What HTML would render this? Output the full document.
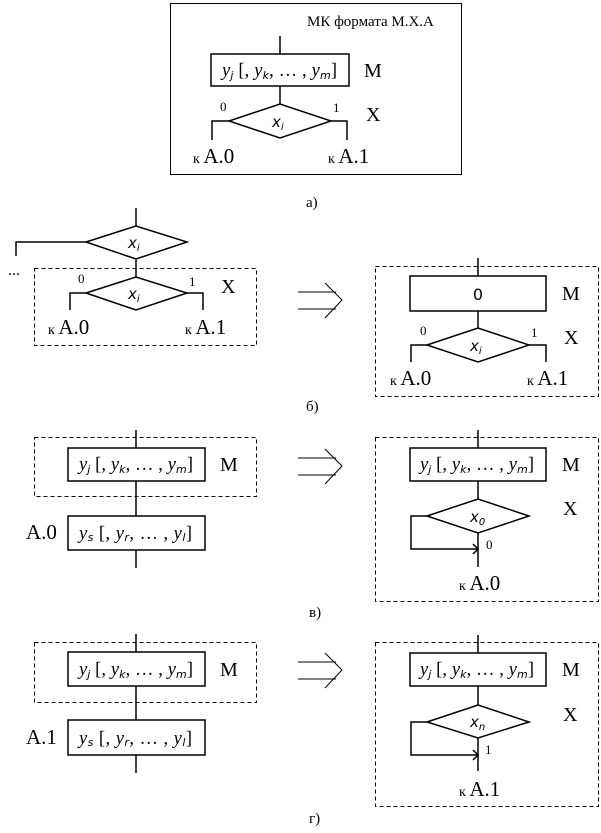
<!DOCTYPE html>
<html><head><meta charset="utf-8"><style>
html,body{margin:0;padding:0;background:#fff}
svg{display:block}
text{font-family:"Liberation Serif","DejaVu Serif",serif;fill:#000}
.s{font-family:"DejaVu Sans","Liberation Sans",sans-serif}
.f{font-size:18.5px}
.i{font-style:italic}
</style></head><body>
<svg width="601" height="833" viewBox="0 0 601 833" xmlns="http://www.w3.org/2000/svg">
<g fill="none" stroke="#000" stroke-width="1.5">
<rect x="170.5" y="3.5" width="291" height="171" stroke-width="1"/>
<line x1="280" y1="36" x2="280" y2="54"/>
<rect x="211" y="54" width="138" height="32"/>
<line x1="280" y1="86" x2="280" y2="104"/>
<polygon points="229,121 280,104 331,121 280,138"/>
<polyline points="229,121 212,121 212,140"/>
<polyline points="331,121 347,121 347,140"/>
<line x1="136" y1="208" x2="136" y2="226"/>
<polygon points="86,242 136,226 187,242 136,259"/>
<polyline points="86,242 16,242 16,256"/>
<rect x="34.5" y="268.5" width="222" height="77" stroke-width="1" stroke-dasharray="4,3"/>
<line x1="136" y1="259" x2="136" y2="277"/>
<polygon points="86,293 136,277 187,293 136,310"/>
<polyline points="86,293 70,293 70,310"/>
<polyline points="187,293 203,293 203,310"/>
<g stroke-width="1">
<line x1="298" y1="292" x2="336" y2="292"/><line x1="298" y1="309" x2="336" y2="309"/><polyline points="325,283 342,300 325,318"/>
<line x1="298" y1="458" x2="336" y2="458"/><line x1="298" y1="475" x2="336" y2="475"/><polyline points="325,449 342,466 325,484"/>
<line x1="298" y1="662" x2="336" y2="662"/><line x1="298" y1="679" x2="336" y2="679"/><polyline points="325,653 342,670 325,688"/>
</g>
<rect x="375.5" y="266.5" width="223" height="130" stroke-width="1" stroke-dasharray="4,3"/>
<line x1="478" y1="258" x2="478" y2="276"/>
<rect x="410" y="276" width="136" height="35"/>
<line x1="478" y1="311" x2="478" y2="328"/>
<polygon points="427,345 478,328 529,345 478,362"/>
<polyline points="427,345 411,345 411,362"/>
<polyline points="529,345 546,345 546,362"/>
<rect x="34.5" y="437.5" width="222" height="59" stroke-width="1" stroke-dasharray="4,3"/>
<line x1="136" y1="430" x2="136" y2="448"/>
<rect x="68" y="448" width="137" height="33"/>
<line x1="136" y1="481" x2="136" y2="516"/>
<rect x="68" y="516" width="137" height="34"/>
<line x1="136" y1="550" x2="136" y2="568"/>
<rect x="375.5" y="437.5" width="223" height="164" stroke-width="1" stroke-dasharray="4,3"/>
<line x1="478" y1="430" x2="478" y2="448"/>
<rect x="410" y="448" width="136" height="33"/>
<line x1="478" y1="481" x2="478" y2="499"/>
<polygon points="427,516 478,499 529,516 478,533"/>
<polyline points="427,516 411,516 411,549 478,549"/>
<polyline points="473,544 478,549 473,554"/>
<line x1="478" y1="533" x2="478" y2="567"/>
<rect x="34.5" y="642.5" width="222" height="60" stroke-width="1" stroke-dasharray="4,3"/>
<line x1="136" y1="634" x2="136" y2="652"/>
<rect x="68" y="652" width="137" height="34"/>
<line x1="136" y1="686" x2="136" y2="720"/>
<rect x="68" y="720" width="137" height="35"/>
<line x1="136" y1="755" x2="136" y2="773"/>
<rect x="375.5" y="642.5" width="223" height="164" stroke-width="1" stroke-dasharray="4,3"/>
<line x1="478" y1="635" x2="478" y2="653"/>
<rect x="410" y="653" width="136" height="33"/>
<line x1="478" y1="686" x2="478" y2="705"/>
<polygon points="427,722 478,705 529,722 478,738"/>
<polyline points="427,722 411,722 411,755 478,755"/>
<polyline points="473,750 478,755 473,760"/>
<line x1="478" y1="738" x2="478" y2="771"/>
</g>

<text x="307" y="26" font-size="15">МК формата М.Х.А</text>
<text x="222" y="76" class="f" textLength="115" lengthAdjust="spacing"><tspan class="i">y</tspan><tspan class="s i" font-size="11" dy="3">j</tspan><tspan dy="-3"> [, </tspan><tspan class="i">y</tspan><tspan class="s i" font-size="11" dy="3">k</tspan><tspan dy="-3">, … , </tspan><tspan class="i">y</tspan><tspan class="s i" font-size="11" dy="3">m</tspan><tspan dy="-3">]</tspan></text>
<text x="364" y="77" font-size="20">M</text>
<text x="220" y="111" font-size="13">0</text>
<text x="333" y="112" font-size="13">1</text>
<text x="366" y="121" font-size="20">X</text>
<text x="272" y="127" class="s i" font-size="15">x<tspan font-size="10" dy="3">i</tspan></text>
<text x="193" y="163"><tspan font-size="14">к </tspan><tspan font-size="21">A.0</tspan></text>
<text x="328" y="163"><tspan font-size="14">к </tspan><tspan font-size="21">A.1</tspan></text>
<text x="306" y="207" font-size="15">а)</text>

<text x="128" y="248" class="s i" font-size="15">x<tspan font-size="10" dy="3">i</tspan></text>
<text x="8" y="275" font-size="16">...</text>
<text x="78" y="283" font-size="13">0</text>
<text x="189" y="286" font-size="13">1</text>
<text x="128" y="299" class="s i" font-size="15">x<tspan font-size="10" dy="3">i</tspan></text>
<text x="221" y="293" font-size="20">X</text>
<text x="48" y="334"><tspan font-size="14">к </tspan><tspan font-size="21">A.0</tspan></text>
<text x="185" y="334"><tspan font-size="14">к </tspan><tspan font-size="21">A.1</tspan></text>

<text x="478" y="300" class="s" font-size="16" text-anchor="middle">0</text>
<text x="562" y="300" font-size="20">M</text>
<text x="420" y="335" font-size="13">0</text>
<text x="531" y="337" font-size="13">1</text>
<text x="564" y="344" font-size="20">X</text>
<text x="470" y="351" class="s i" font-size="15">x<tspan font-size="10" dy="3">i</tspan></text>
<text x="390" y="385"><tspan font-size="14">к </tspan><tspan font-size="21">A.0</tspan></text>
<text x="527" y="385"><tspan font-size="14">к </tspan><tspan font-size="21">A.1</tspan></text>
<text x="306" y="411" font-size="15">б)</text>

<text x="79" y="470" class="f" textLength="114" lengthAdjust="spacing"><tspan class="i">y</tspan><tspan class="s i" font-size="11" dy="3">j</tspan><tspan dy="-3"> [, </tspan><tspan class="i">y</tspan><tspan class="s i" font-size="11" dy="3">k</tspan><tspan dy="-3">, … , </tspan><tspan class="i">y</tspan><tspan class="s i" font-size="11" dy="3">m</tspan><tspan dy="-3">]</tspan></text>
<text x="220" y="471" font-size="20">M</text>
<text x="26" y="539" font-size="21">A.0</text>
<text x="79" y="539" class="f" textLength="113" lengthAdjust="spacing"><tspan class="i">y</tspan><tspan class="s i" font-size="11" dy="2">s</tspan><tspan dy="-2"> [, </tspan><tspan class="i">y</tspan><tspan class="s i" font-size="11" dy="2">r</tspan><tspan dy="-2">, … , </tspan><tspan class="i">y</tspan><tspan class="s i" font-size="11" dy="2">l</tspan><tspan dy="-2">]</tspan></text>
<text x="420" y="470" class="f" textLength="114" lengthAdjust="spacing"><tspan class="i">y</tspan><tspan class="s i" font-size="11" dy="3">j</tspan><tspan dy="-3"> [, </tspan><tspan class="i">y</tspan><tspan class="s i" font-size="11" dy="3">k</tspan><tspan dy="-3">, … , </tspan><tspan class="i">y</tspan><tspan class="s i" font-size="11" dy="3">m</tspan><tspan dy="-3">]</tspan></text>
<text x="562" y="471" font-size="20">M</text>
<text x="563" y="515" font-size="20">X</text>
<text x="470" y="522" class="s i" font-size="15">x<tspan font-size="10" dy="3">0</tspan></text>
<text x="486" y="549" font-size="13">0</text>
<text x="459" y="590"><tspan font-size="14">к </tspan><tspan font-size="21">A.0</tspan></text>
<text x="309" y="617" font-size="15">в)</text>

<text x="79" y="675" class="f" textLength="114" lengthAdjust="spacing"><tspan class="i">y</tspan><tspan class="s i" font-size="11" dy="3">j</tspan><tspan dy="-3"> [, </tspan><tspan class="i">y</tspan><tspan class="s i" font-size="11" dy="3">k</tspan><tspan dy="-3">, … , </tspan><tspan class="i">y</tspan><tspan class="s i" font-size="11" dy="3">m</tspan><tspan dy="-3">]</tspan></text>
<text x="220" y="676" font-size="20">M</text>
<text x="26" y="744" font-size="21">A.1</text>
<text x="79" y="744" class="f" textLength="113" lengthAdjust="spacing"><tspan class="i">y</tspan><tspan class="s i" font-size="11" dy="2">s</tspan><tspan dy="-2"> [, </tspan><tspan class="i">y</tspan><tspan class="s i" font-size="11" dy="2">r</tspan><tspan dy="-2">, … , </tspan><tspan class="i">y</tspan><tspan class="s i" font-size="11" dy="2">l</tspan><tspan dy="-2">]</tspan></text>
<text x="420" y="675" class="f" textLength="114" lengthAdjust="spacing"><tspan class="i">y</tspan><tspan class="s i" font-size="11" dy="3">j</tspan><tspan dy="-3"> [, </tspan><tspan class="i">y</tspan><tspan class="s i" font-size="11" dy="3">k</tspan><tspan dy="-3">, … , </tspan><tspan class="i">y</tspan><tspan class="s i" font-size="11" dy="3">m</tspan><tspan dy="-3">]</tspan></text>
<text x="562" y="676" font-size="20">M</text>
<text x="563" y="721" font-size="20">X</text>
<text x="470" y="727" class="s i" font-size="15">x<tspan font-size="10" dy="3">n</tspan></text>
<text x="485" y="754" font-size="13">1</text>
<text x="459" y="796"><tspan font-size="14">к </tspan><tspan font-size="21">A.1</tspan></text>
<text x="309" y="823" font-size="15">г)</text>
</svg>
</body></html>
